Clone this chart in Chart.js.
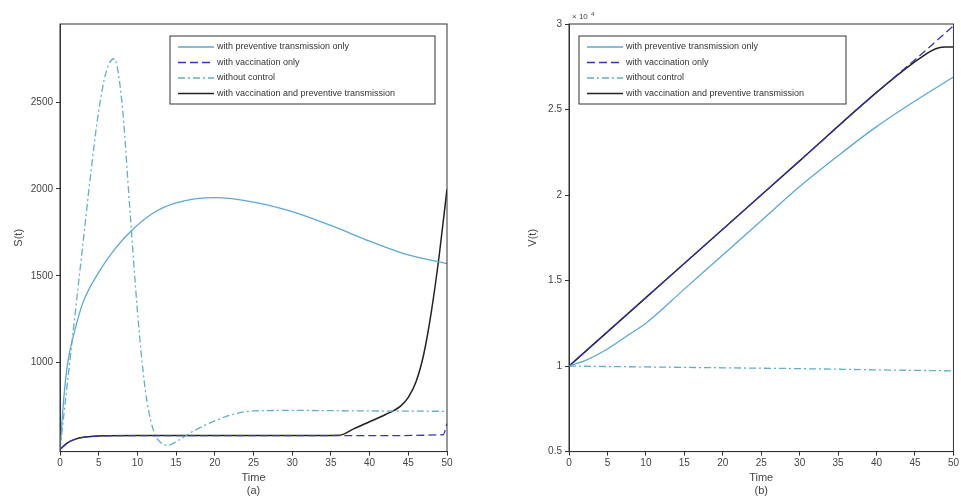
<!DOCTYPE html>
<html><head><meta charset="utf-8">
<script src="https://cdn.jsdelivr.net/npm/chart.js@4/dist/chart.umd.min.js"></script>
<style>
body{margin:0;background:#fff;width:961px;height:502px;overflow:hidden}
.w{position:absolute;top:0;height:502px}
</style></head><body>
<div class="w" style="left:0;width:480px"><canvas id="ca"></canvas></div>
<div class="w" style="left:480px;width:481px"><canvas id="cb"></canvas></div>
<script>
const seriesNames = ['with preventive transmission only', 'with vaccination only', 'without control', 'with vaccination and preventive transmission'];
const xTicks = [0, 5, 10, 15, 20, 25, 30, 35, 40, 45, 50];

// (a) S(t)
const sPrevT = [0, 0.5, 1, 2, 3, 5, 7, 9, 12, 15, 20, 25, 30, 35, 40, 45, 50];
const sPrevV = [500, 800, 1000, 1200, 1350, 1520, 1650, 1750, 1860, 1920, 1950, 1925, 1870, 1790, 1700, 1620, 1570];
const sVacT = [0, 1, 2, 3, 5, 10, 20, 30, 40, 49.5, 50];
const sVacV = [500, 540, 560, 570, 578, 580, 580, 580, 580, 585, 650];
const sNoneT = [0, 1, 2, 3, 4, 5, 6, 7, 8, 9, 10, 11, 12, 13, 14, 15, 17, 20, 23, 25, 30, 40, 50];
const sNoneV = [500, 900, 1300, 1700, 2100, 2450, 2680, 2750, 2500, 1900, 1300, 850, 620, 540, 525, 545, 600, 665, 710, 722, 725, 722, 720];
const sBothT = [0, 1, 2, 3, 5, 10, 20, 30, 36, 38, 40, 42, 44, 45, 46, 47, 48, 49, 50];
const sBothV = [500, 540, 560, 570, 578, 580, 580, 580, 582, 620, 660, 700, 750, 800, 890, 1050, 1300, 1620, 2000];

// (b) V(t), units of 1e4
const vPrevT = [0, 2, 5, 8, 10, 15, 20, 25, 30, 35, 40, 45, 50];
const vPrevV = [1, 1.03, 1.1, 1.19, 1.25, 1.45, 1.65, 1.85, 2.05, 2.23, 2.4, 2.55, 2.69];
const vVacT = [0, 10, 20, 30, 40, 46, 50];
const vVacV = [1, 1.4, 1.8, 2.2, 2.6, 2.83, 2.99];
const vNoneT = [0, 10, 20, 30, 40, 50];
const vNoneV = [1, 0.995, 0.99, 0.985, 0.978, 0.972];
const vBothT = [0, 10, 20, 30, 40, 45, 46, 47, 48, 49, 50];
const vBothV = [1, 1.4, 1.8, 2.2, 2.6, 2.78, 2.81, 2.84, 2.86, 2.865, 2.865];

const styles = [
  {color: '#5aa8d8', dash: []},
  {color: '#3434c8', dash: [8, 4]},
  {color: '#5fb0c8', dash: [7, 3, 2, 3]},
  {color: '#222222', dash: []}
];

function pts(t, v) { return t.map((x, i) => ({x: x, y: v[i]})); }

function makeDatasets(list) {
  return list.map((p, i) => ({
    label: seriesNames[i], data: pts(p[0], p[1]),
    borderColor: styles[i].color, borderDash: styles[i].dash,
    borderWidth: i === 3 ? 1.5 : 1.3, pointRadius: 0,
    cubicInterpolationMode: 'monotone', fill: false
  }));
}

const boxLegend = {
  id: 'boxLegend',
  afterDraw(chart, args, opts) {
    const c = chart.ctx, a = chart.chartArea;
    c.save();
    c.strokeStyle = '#333'; c.lineWidth = 1;
    c.strokeRect(a.left, a.top, a.right - a.left, a.bottom - a.top);
    const x = opts.x, y = 36, w = opts.w, h = 68;
    c.fillStyle = '#fff'; c.fillRect(x, y, w, h); c.strokeRect(x, y, w, h);
    c.font = '9px "Liberation Sans", Arial'; c.textBaseline = 'middle';
    seriesNames.forEach((n, i) => {
      const yy = y + 11 + i * 15.5;
      c.strokeStyle = styles[i].color; c.setLineDash(styles[i].dash);
      c.lineWidth = 1.3;
      c.beginPath(); c.moveTo(x + 8, yy); c.lineTo(x + 44, yy); c.stroke();
      c.setLineDash([]);
      c.fillStyle = '#333'; c.fillText(n, x + 47, yy);
    });
    if (opts.exp) {
      c.font = '8px "Liberation Sans", Arial'; c.fillStyle = '#444';
      c.fillText('\u00d7 10', a.left + 3, a.top - 7);
      c.font = '6px "Liberation Sans", Arial'; c.fillText('4', a.left + 22, a.top - 10);
    }
    c.restore();
  }
};

function makeChart(id, datasets, yopt, ylabel, sub, legend, pad) {
  const tickFont = {family: '"Liberation Sans", Arial', size: 10};
  new Chart(document.getElementById(id), {
    type: 'line',
    data: {datasets: datasets},
    plugins: [boxLegend],
    options: {
      responsive: true, maintainAspectRatio: false, animation: false,
      layout: {padding: pad},
      plugins: {legend: {display: false}, tooltip: {enabled: false}, boxLegend: legend},
      scales: {
        x: {
          type: 'linear', min: 0, max: 50,
          afterBuildTicks: ax => { ax.ticks = xTicks.map(v => ({value: v})); },
          grid: {drawOnChartArea: false, tickLength: 4, color: '#333'},
          border: {color: '#333'},
          ticks: {color: '#444', font: tickFont, padding: 2, maxRotation: 0, callback: v => String(v)},
          title: {display: true, text: ['Time', sub], color: '#444', font: {family: '"Liberation Sans", Arial', size: 11}, padding: {top: 0}}
        },
        y: Object.assign({
          grid: {drawOnChartArea: false, tickLength: 4, color: '#333'},
          border: {color: '#333'},
          ticks: {color: '#444', font: tickFont, padding: 3, callback: v => String(v)},
          title: {display: true, text: ylabel, color: '#444', font: {family: '"Liberation Sans", Arial', size: 11}, padding: {top: pad.tp}},
          afterFit: ax => { ax.width = pad.yw; }
        }, yopt)
      }
    }
  });
}

makeChart('ca', makeDatasets([[sPrevT, sPrevV], [sVacT, sVacV], [sNoneT, sNoneV], [sBothT, sBothV]]),
  {min: 488, max: 2950, afterBuildTicks: ax => { ax.ticks = [1000, 1500, 2000, 2500].map(v => ({value: v})); }},
  'S(t)', '(a)', {x: 170, w: 265}, {left: 0, top: 24, right: 33, bottom: 0, yw: 60, tp: 12});

makeChart('cb', makeDatasets([[vPrevT, vPrevV], [vVacT, vVacV], [vNoneT, vNoneV], [vBothT, vBothV]]),
  {min: 0.5, max: 3, afterBuildTicks: ax => { ax.ticks = [0.5, 1, 1.5, 2, 2.5, 3].map(v => ({value: v})); }},
  'V(t)', '(b)', {x: 99, w: 267, exp: true}, {left: 0, top: 24, right: 7, bottom: 0, yw: 89, tp: 46});
</script>
</body></html>
